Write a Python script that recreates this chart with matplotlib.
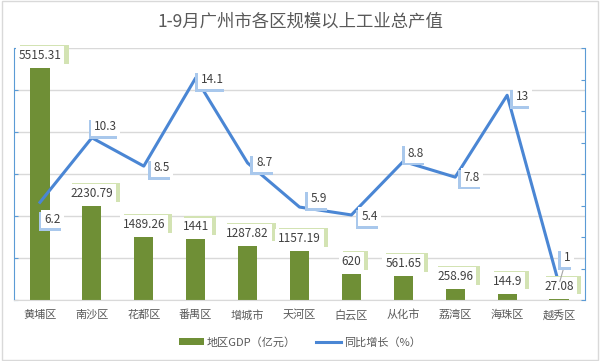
import matplotlib.pyplot as plt
import matplotlib.patheffects as pe
import numpy as np
from matplotlib.patches import Patch
from matplotlib.lines import Line2D

plt.rcParams['font.family'] = ['Noto Sans CJK SC', 'DejaVu Sans']

# data
districts = ['黄埔区', '南沙区', '花都区', '番禺区', '增城市', '天河区',
             '白云区', '从化市', '荔湾区', '海珠区', '越秀区']
gdp = [5515.31, 2230.79, 1489.26, 1441, 1287.82, 1157.19,
       620, 561.65, 258.96, 144.9, 27.08]
growth = [6.2, 10.3, 8.5, 14.1, 8.7, 5.9, 5.4, 8.8, 7.8, 13, 1]
gdp_text = ['5515.31', '2230.79', '1489.26', '1441', '1287.82', '1157.19',
            '620', '561.65', '258.96', '144.9', '27.08']
growth_text = ['6.2', '10.3', '8.5', '14.1', '8.7', '5.9', '5.4', '8.8', '7.8', '13', '1']

# label offsets for growth values (points)
growth_offsets = [(9, -12), (10, 8), (13, -1), (12, -1), (12, 0), (14, 6),
                  (13, -1), (9, 6), (12, 0), (11, -1), (6, 19)]

BAR = '#6f8f36'
LINE = '#4a86d4'
AXIS = '#5b9bd5'
GRID = '#d9d9d9'
TXT = '#404040'

fig = plt.figure(figsize=(6, 3.61), dpi=100)
ax = fig.add_axes([14 / 600, 61 / 361, 571 / 600, 252 / 361])
x = np.arange(len(districts))

ax.bar(x, gdp, width=0.37, color=BAR, zorder=2)
ax.set_xlim(-0.5, len(districts) - 0.5)
ax.set_ylim(0, 6000)
ax.set_yticks(np.arange(0, 6001, 1000))
ax.grid(axis='y', color=GRID, linewidth=1, zorder=0)
ax.set_xticks(x)
ax.set_xticklabels(districts, fontsize=8, color='#595959')
ax.tick_params(axis='x', length=0, pad=7)
ax.tick_params(axis='y', direction='in', length=3, color=AXIS, labelleft=False)
ax.spines['left'].set_color(AXIS)
ax.spines['bottom'].set_color(GRID)
ax.spines['top'].set_visible(False)
ax.spines['right'].set_visible(False)

ax2 = ax.twinx()
ax2.plot(x, growth, color=LINE, linewidth=2.2, zorder=3)
ax2.set_ylim(0, 16)
ax2.set_yticks(np.arange(0, 17, 2))
ax2.tick_params(axis='y', direction='in', length=3, color=AXIS, labelright=False)
ax2.spines['right'].set_color(AXIS)
ax2.spines['left'].set_visible(False)
ax2.spines['top'].set_visible(False)
ax2.spines['bottom'].set_visible(False)


def label(axis, t, xy, off, shade, shade_off, z):
    a = axis.annotate(t, xy, xytext=off, textcoords='offset points',
                      ha='center', va='center', fontsize=8.5, color=TXT,
                      bbox=dict(boxstyle='square,pad=0.25', fc='white', ec='none'), zorder=z)
    a.get_bbox_patch().set_path_effects([
        pe.SimplePatchShadow(offset=shade_off, shadow_rgbFace=shade, alpha=1),
        pe.Normal()])
    return a


# bar labels: white box with green shade on the right
for xi, v, t in zip(x, gdp, gdp_text):
    label(ax2, t, (xi, v / 6000 * 16), (0, 9), '#d3e3b3', (3, 1), 5)

# growth labels: white box with blue bracket on the left/bottom
for i, (xi, v, t) in enumerate(zip(x, growth, growth_text)):
    label(ax2, t, (xi, v), growth_offsets[i], '#a9c8ec', (-2, -2), 7)

# leader line for the last point
ax2.annotate('', (x[-1], growth[-1]), xytext=(4, 14), textcoords='offset points',
             arrowprops=dict(arrowstyle='-', color='#a6a6a6', lw=0.8), zorder=6)

fig.text(0.5, 1 - 22 / 361, '1-9月广州市各区规模以上工业总产值', ha='center', va='center',
         fontsize=12.5, color='#595959')

handles = [Patch(facecolor=BAR, edgecolor='none'),
           Line2D([0], [0], color=LINE, linewidth=2.2)]
fig.legend(handles, ['地区GDP（亿元）', '同比增长（%）'], loc='center',
           bbox_to_anchor=(0.5, 1 - 342 / 361), ncol=2, frameon=False,
           fontsize=8, labelcolor='#595959', handlelength=2.2, handleheight=0.6,
           columnspacing=1.8, handletextpad=0.3)

# light grey frame around the chart
fig.patches.append(plt.Rectangle((0.004, 0.004), 0.992, 0.992, transform=fig.transFigure,
                                 fill=False, edgecolor='#d9d9d9', linewidth=1))

fig.savefig('out.png', dpi=100)
